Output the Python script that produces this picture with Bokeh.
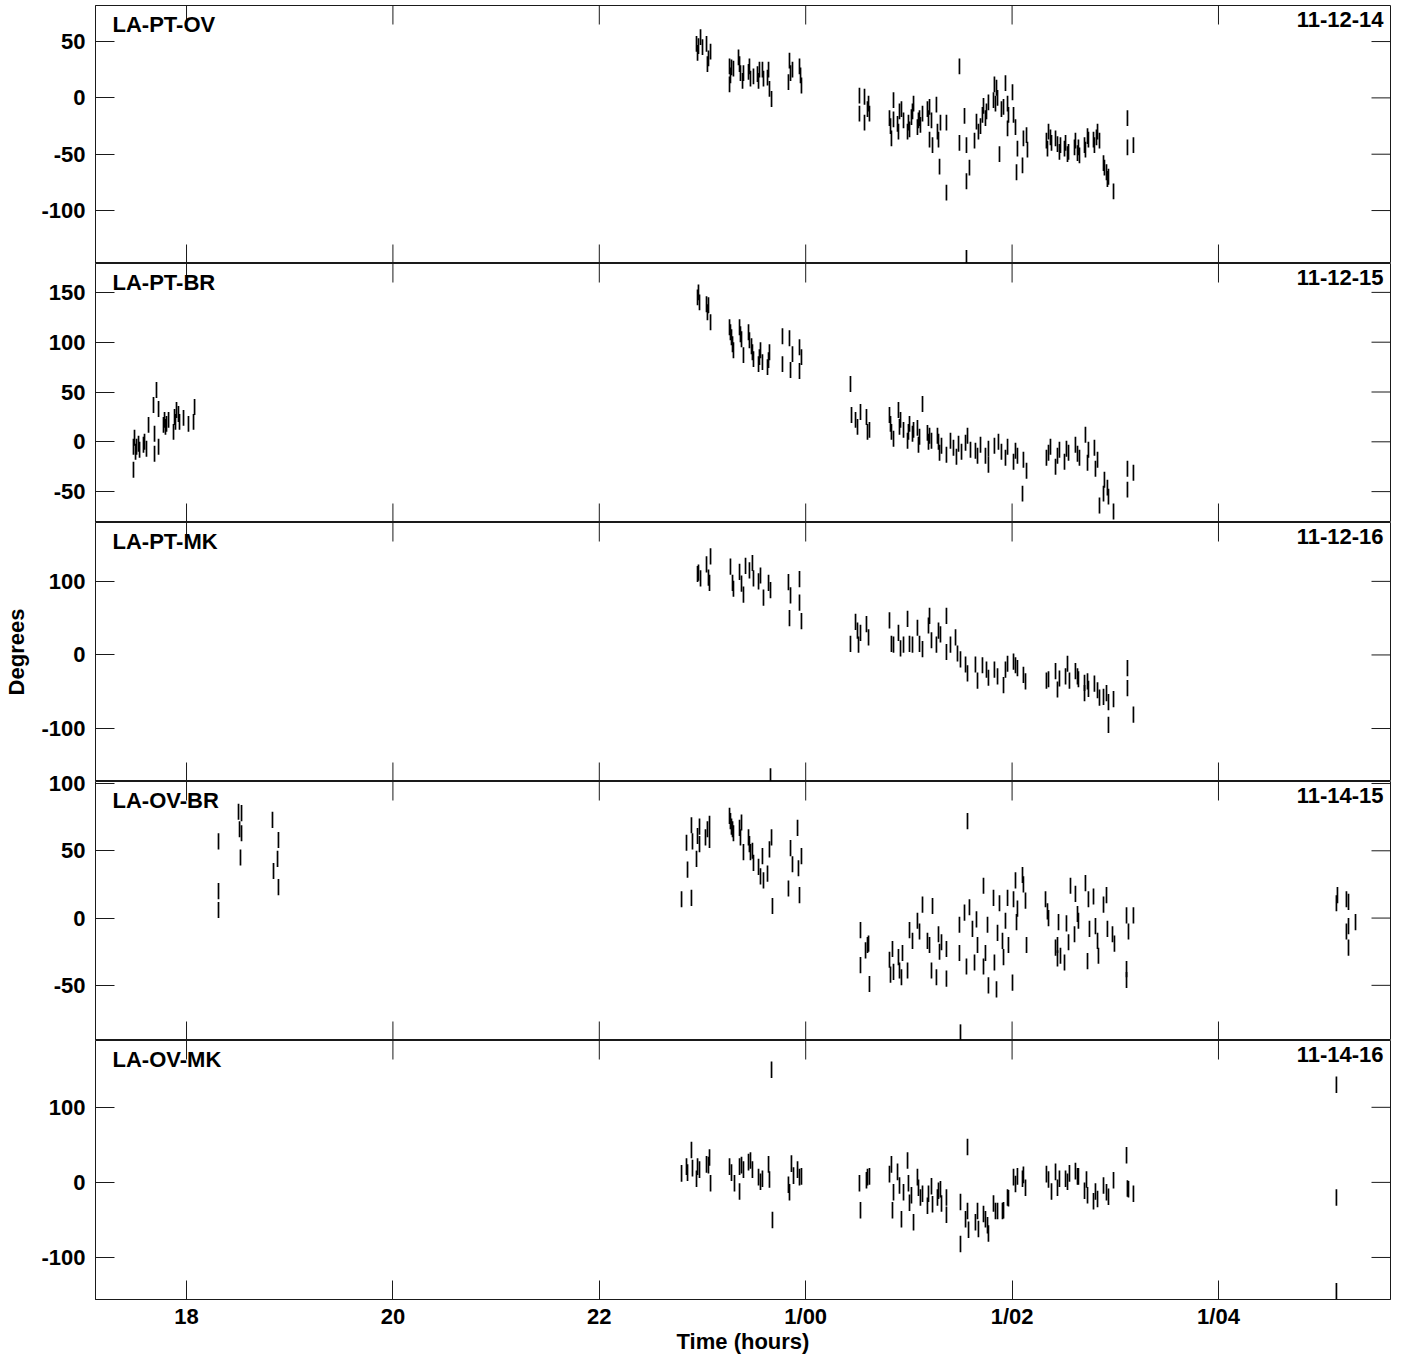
from bokeh.plotting import figure
from bokeh.models import Range1d, FixedTicker, Label, ColumnDataSource
from bokeh.layouts import column
from bokeh.embed import file_html
from bokeh.resources import INLINE

FONT = "Liberation Sans"

baselines = ["LA-PT-OV", "LA-PT-BR", "LA-PT-MK", "LA-OV-BR", "LA-OV-MK"]
codes = ["11-12-14", "11-12-15", "11-12-16", "11-14-15", "11-14-16"]
x_ticks = [18, 20, 22, 24, 26, 28]
x_tick_labels = ["18", "20", "22", "1/00", "1/02", "1/04"]
y_ranges = [(-147, 82), (-81, 179), (-172, 180), (-91, 101.5), (-156, 189)]
y_ticks = [[-100, -50, 0, 50], [-50, 0, 50, 100, 150], [-100, 0, 100],
           [-50, 0, 50, 100], [-100, 0, 100]]
# phase uncertainty (half length of each bar), degrees, per baseline
phase_err = [7, 8, 11, 6, 11]

# ---- LA-PT-OV ----
t_pt_ov = [
    22.942, 22.952, 22.961, 22.981, 23.000, 23.039, 23.048, 23.058, 23.078,
    23.262, 23.262, 23.271, 23.281, 23.300, 23.349, 23.359, 23.368, 23.388, 23.397,
    23.446, 23.455, 23.465, 23.494, 23.533, 23.543, 23.552, 23.581, 23.591, 23.630,
    23.640, 23.649, 23.669,
    23.833, 23.843, 23.853, 23.872, 23.940, 23.950, 23.959,
    24.521, 24.521, 24.570, 24.570, 24.599, 24.609, 24.618,
    24.812, 24.822, 24.831, 24.851, 24.851, 24.890, 24.899, 24.909, 24.928, 24.948,
    24.987, 24.996, 25.006, 25.025, 25.035, 25.045, 25.083, 25.093, 25.103, 25.112,
    25.132, 25.180, 25.190, 25.200, 25.200, 25.219, 25.229, 25.267, 25.277, 25.287,
    25.297, 25.306, 25.364, 25.364,
    25.490, 25.490, 25.539, 25.558, 25.558, 25.558, 25.587, 25.636, 25.655, 25.674,
    25.694, 25.713, 25.723, 25.742, 25.752, 25.771, 25.820, 25.829, 25.839, 25.849,
    25.859, 25.878, 25.897, 25.917, 25.936, 25.956, 25.956, 25.965, 26.004, 26.014,
    26.033, 26.043, 26.052, 26.101, 26.110, 26.140, 26.149,
    26.333, 26.343, 26.353, 26.372, 26.382, 26.421, 26.440, 26.459, 26.469, 26.508,
    26.518, 26.537, 26.547, 26.605, 26.614, 26.634, 26.643, 26.653, 26.702, 26.711,
    26.731, 26.740, 26.789, 26.798, 26.818, 26.828, 26.847, 26.886, 26.895, 26.915,
    26.924, 26.934, 26.983,
    27.118, 27.118, 27.176,
]
ph_pt_ov = [
    48, 40, 46, 54, 45, 48, 30, 35, 41,
    12, 28, 20, 27, 26, 36, 30, 22, 15, 22,
    23, 28, 17, 19, 21, 15, 25, 25, 17, 18,
    25, 8, -1,
    14, 33, 22, 25, 28, 20, 11,
    2, -14, 1, -22, -10, -5, -14,
    -18, -25, -36, -2, -19, -23, -30, -12, -10, -20,
    -30, -22, -28, -17, -12, -5, -26, -20, -18, -24,
    -14, -10, -18, -8, -37, -20, -42, -6, -30, -37,
    -61, -22, -22, -84,
    28, -40, -16, -42, -74, -142, -62, -38, -21, -30,
    -25, -15, -7, -18, -12, -4, -2, 12, -5, 9,
    0, -50, -10, -8, 13, -5, -27, -15, 5, -15,
    -26, -66, -45, -60, -36, -33, -46,
    -38, -45, -30, -35, -40, -36, -41, -48, -42, -45,
    -40, -50, -48, -44, -38, -49, -44, -51, -42, -46,
    -34, -37, -37, -42, -35, -30, -38, -58, -62, -66,
    -72, -70, -83,
    -18, -44, -42,
]

# ---- LA-PT-BR ----
t_pt_br = [
    17.486, 17.486, 17.496, 17.506, 17.516, 17.535, 17.545, 17.583, 17.593, 17.612,
    17.632, 17.680, 17.690, 17.690, 17.709, 17.729, 17.729, 17.777, 17.787, 17.796,
    17.806, 17.826, 17.874, 17.884, 17.893, 17.903, 17.922, 17.932, 17.971, 18.019,
    18.068, 18.078,
    22.952, 22.961, 22.971, 23.039, 23.048, 23.058, 23.078,
    23.262, 23.271, 23.281, 23.291, 23.300, 23.359, 23.368, 23.378, 23.397, 23.446,
    23.455, 23.475, 23.484, 23.494, 23.543, 23.552, 23.562, 23.581, 23.630, 23.640,
    23.649,
    23.775, 23.775, 23.843, 23.853, 23.872, 23.940, 23.940, 23.959,
    24.434, 24.444, 24.483, 24.502, 24.531, 24.589, 24.599, 24.618,
    24.812, 24.822, 24.831, 24.851, 24.899, 24.909, 24.919, 24.948, 24.987, 24.996,
    25.006, 25.035, 25.045, 25.083, 25.093, 25.103, 25.132, 25.180, 25.190, 25.200,
    25.219, 25.277, 25.287, 25.297, 25.316, 25.364, 25.403, 25.432, 25.461, 25.481,
    25.510, 25.549, 25.568, 25.597, 25.645, 25.665, 25.694, 25.742, 25.771, 25.771,
    25.829, 25.868, 25.897, 25.936, 25.956, 26.014, 26.033, 26.052, 26.101, 26.110,
    26.140,
    26.333, 26.353, 26.372, 26.421, 26.440, 26.459, 26.508, 26.527, 26.547, 26.614,
    26.634, 26.653, 26.711, 26.731, 26.740, 26.798, 26.808, 26.828, 26.847, 26.886,
    26.895, 26.924, 26.934, 26.983,
    27.118, 27.118, 27.176,
]
ph_pt_br = [
    -5, -28, 4, -10, -5, -2, -8, -3, 0, -7,
    17, 37, 8, -12, 52, 33, -5, 17, 22, 15,
    18, 22, 10, 25, 20, 32, 28, 20, 24, 18,
    20, 35,
    145, 150, 140, 138, 130, 137, 120,
    115, 110, 105, 98, 92, 115, 108, 103, 87, 110,
    102, 96, 90, 83, 78, 85, 92, 80, 75, 82,
    90,
    106, 78, 104, 72, 88, 95, 71, 85,
    58, 27, 22, 15, 30, 25, 10, 12,
    27, 18, 10, 3, 32, 15, 22, 12, 1, 10,
    18, 8, 12, 14, -3, 5, 38, 9, 0, 6,
    1, 6, 0, -11, -4, -13, 1, -6, -15, -2,
    -10, -1, 6, -8, -9, -14, -3, -14, -7, -23,
    -4, 0, -10, -16, -5, -20, -9, -14, -52, -18,
    -29,
    -16, -11, -5, -25, -14, -8, -20, -7, -11, -3,
    -12, -16, 7, -21, -8, -6, -27, -18, -64, -52,
    -38, -46, -55, -70,
    -27, -48, -31,
]

# ---- LA-PT-MK ----
t_pt_mk = [
    22.952, 22.961, 22.981, 23.039, 23.058, 23.068, 23.078,
    23.271, 23.291, 23.300, 23.359, 23.378, 23.397, 23.417, 23.455, 23.484, 23.494,
    23.543, 23.562, 23.591, 23.640, 23.659, 23.659,
    23.833, 23.843, 23.853, 23.940, 23.940, 23.959,
    24.434, 24.483, 24.502, 24.512, 24.531, 24.589, 24.609,
    24.812, 24.831, 24.851, 24.899, 24.919, 24.948, 24.987, 25.006, 25.035, 25.083,
    25.103, 25.132, 25.190, 25.200, 25.219, 25.267, 25.287, 25.306, 25.364, 25.364,
    25.403, 25.452, 25.471, 25.500, 25.549, 25.568, 25.645, 25.665, 25.713, 25.752,
    25.771, 25.829, 25.859, 25.917, 25.936, 25.956, 26.014, 26.033, 26.052, 26.110,
    26.130,
    26.333, 26.353, 26.421, 26.440, 26.459, 26.518, 26.537, 26.556, 26.614, 26.634,
    26.643, 26.702, 26.702, 26.731, 26.740, 26.798, 26.828, 26.847, 26.886, 26.915,
    26.934, 26.934, 26.983,
    27.118, 27.118, 27.176,
]
ph_pt_mk = [
    110, 112, 104, 123, 105, 98, 134,
    120, 98, 90, 113, 97, 82, 121, 115, 125, 104,
    100, 108, 78, 98, 88, -165,
    99, 50, 81, 103, 71, 46,
    15, 45, 33, 14, 30, 42, 24,
    47, 15, 14, 30, 9, 14, 49, 15, 14, 37,
    15, 8, 40, 53, 20, 14, 33, 28, 53, 4,
    14, 24, 2, -6, -13, -25, -13, -35, -14, -20,
    -31, -20, -29, -41, -20, -12, -9, -14, -18, -27,
    -36,
    -35, -33, -22, -47, -32, -29, -12, -35, -22, -29,
    -33, -38, -52, -36, -46, -39, -48, -58, -57, -52,
    -64, -95, -60,
    -18, -45, -81,
]

# ---- LA-OV-BR ----
t_ov_br = [
    18.310, 18.310, 18.310, 18.504, 18.514, 18.523, 18.533, 18.533, 18.833, 18.843,
    18.882, 18.891, 18.891,
    22.797, 22.845, 22.855, 22.893, 22.893, 22.903, 22.942, 22.952, 22.971, 22.971,
    23.029, 23.048, 23.068, 23.068,
    23.262, 23.271, 23.281, 23.291, 23.300, 23.359, 23.368, 23.378, 23.397, 23.446,
    23.455, 23.465, 23.484, 23.494, 23.543, 23.562, 23.581, 23.591, 23.630, 23.649,
    23.669, 23.678,
    23.833, 23.853, 23.872, 23.921, 23.930, 23.940, 23.959,
    24.531, 24.531, 24.580, 24.599, 24.609, 24.618,
    24.812, 24.822, 24.841, 24.851, 24.899, 24.909, 24.928, 24.938, 24.987, 25.006,
    25.035, 25.083, 25.103, 25.132, 25.180, 25.200, 25.219, 25.229, 25.267, 25.287,
    25.297, 25.316, 25.364, 25.364,
    25.490, 25.490, 25.500, 25.539, 25.558, 25.568, 25.587, 25.616, 25.636, 25.655,
    25.665, 25.723, 25.723, 25.742, 25.762, 25.771, 25.820, 25.829, 25.849, 25.859,
    25.878, 25.907, 25.917, 25.936, 25.956, 25.965, 26.004, 26.014, 26.033, 26.043,
    26.052, 26.101, 26.110, 26.130, 26.140,
    26.324, 26.343, 26.353, 26.421, 26.440, 26.440, 26.450, 26.469, 26.508, 26.527,
    26.547, 26.566, 26.605, 26.614, 26.634, 26.643, 26.711, 26.731, 26.740, 26.750,
    26.789, 26.808, 26.828, 26.837, 26.886, 26.915, 26.924, 26.973, 26.992,
    27.109, 27.109, 27.109, 27.128, 27.176,
    29.143, 29.153, 29.240, 29.240, 29.260, 29.260, 29.260, 29.328,
]
ph_ov_br = [
    57, 20, 6, 79, 66, 45, 78, 63, 73, 35,
    44, 58, 23,
    14, 56, 36, 69, 15, 57, 44, 61, 68, 55,
    60, 66, 70, 58,
    76, 72, 68, 66, 63, 67, 60, 71, 49, 60,
    55, 49, 50, 41, 38, 31, 46, 28, 33, 51,
    60, 9,
    22, 52, 40, 67, 37, 17, 46,
    -9, -35, -24, -20, -19, -49,
    -31, -42, -23, -40, -29, -39, -44, -26, -39, -9,
    -17, -2, -10, 10, -17, -20, -39, 9, -44, -12,
    -25, -18, -23, -45,
    -5, -26, -85, 4, -36, 72, 8, -8, -33, -1,
    -20, 24, -36, -26, -5, -50, 15, -33, -53, -11,
    11, -17, -29, -2, 15, -20, -48, 14, 28, -3,
    7, 32, 25, 13, -20,
    14, 5, 0, -22, -20, -30, -3, -28, -33, -4,
    -18, 24, -12, 18, 3, -2, 26, -32, 14, -8,
    16, -6, -17, -28, 10, 17, -8, -12, -19,
    2, -38, -46, -10, 2,
    11, 17, 14, -10, 12, -22, -6, -3,
]

# ---- LA-OV-MK ----
t_ov_mk = [
    22.797, 22.845, 22.855, 22.893, 22.903, 22.942, 22.952, 22.971, 23.039, 23.058,
    23.068, 23.078,
    23.262, 23.281, 23.310, 23.359, 23.359, 23.378, 23.397, 23.446, 23.465, 23.484,
    23.543, 23.562, 23.581, 23.640, 23.649, 23.669, 23.678,
    23.833, 23.843, 23.862, 23.882, 23.921, 23.940, 23.959,
    24.521, 24.531, 24.589, 24.599, 24.618,
    24.812, 24.831, 24.841, 24.851, 24.890, 24.909, 24.928, 24.948, 24.987, 24.996,
    25.006, 25.025, 25.045, 25.083, 25.093, 25.112, 25.132, 25.180, 25.190, 25.219,
    25.229, 25.277, 25.287, 25.306, 25.316, 25.364, 25.364,
    25.500, 25.500, 25.549, 25.568, 25.568, 25.578, 25.645, 25.665, 25.674, 25.723,
    25.742, 25.762, 25.771, 25.820, 25.839, 25.859, 25.907, 25.917, 25.956, 25.965,
    26.014, 26.033, 26.052, 26.101, 26.110, 26.130,
    26.333, 26.353, 26.382, 26.421, 26.440, 26.459, 26.518, 26.537, 26.556, 26.614,
    26.634, 26.643, 26.702, 26.721, 26.731, 26.789, 26.808, 26.828, 26.886, 26.915,
    26.934, 26.983,
    27.109, 27.118, 27.128, 27.176,
    29.143, 29.143, 29.143,
]
ph_ov_mk = [
    12, 21, 13, 43, 19, 5, 21, 17, 24, 23,
    33, -1,
    21, 13, -1, 21, -12, 23, 17, 27, 29, 17,
    7, 1, 5, 24, 4, 150, -50,
    -3, -13, 25, 9, 17, 7, 8,
    -1, -37, 3, 7, 8,
    11, 24, -37, -13, 14, -4, -49, -13, 29, -1,
    -27, -17, -53, 7, -7, -20, -15, -31, -15, -5,
    -29, -20, -11, -9, -28, -20, -43,
    -26, -82, -49, -38, 47, -63, -53, -38, -62, -42,
    -49, -57, -68, -28, -38, -38, -38, -37, -20, -21,
    7, -2, 8, 5, 10, -7,
    11, 4, -12, 14, -7, 5, 5, 1, 12, 15,
    8, 8, -11, 4, -17, -25, -12, -22, -4, -13,
    -19, 3,
    36, -8, -9, -15,
    130, -20, -145,
]

series = [(t_pt_ov, ph_pt_ov), (t_pt_br, ph_pt_br), (t_pt_mk, ph_pt_mk),
          (t_ov_br, ph_ov_br), (t_ov_mk, ph_ov_mk)]

INK = "#1a1a1a"
FRAME_W = 1295
FRAME_HS = [258, 259, 259, 259, 259]
OVERLAP = 12           # transparent top border that overlaps the panel above
TICK_PX = 19
X0, X1 = 17.118, 29.667
x_range = Range1d(X0, X1)


def style_axis(ax):
    ax.major_tick_in = TICK_PX
    ax.major_tick_out = 0
    ax.minor_tick_in = 0
    ax.minor_tick_out = 0
    ax.axis_line_color = INK
    ax.major_tick_line_color = INK
    ax.major_tick_line_width = 1
    ax.major_label_text_font = FONT
    ax.major_label_text_font_style = "bold"
    ax.major_label_text_color = "black"
    ax.major_label_text_font_size = "22px"
    ax.axis_label_text_font = FONT
    ax.axis_label_text_font_style = "bold"
    ax.axis_label_text_font_size = "22px"
    ax.axis_label_text_color = "black"


figs = []
for i in range(5):
    last = (i == 4)
    FRAME_H = FRAME_HS[i]
    t, ph = series[i]
    assert len(t) == len(ph), (i, len(t), len(ph))
    e = phase_err[i]
    src = ColumnDataSource(dict(t=t, lo=[v - e for v in ph], hi=[v + e for v in ph]))
    Y0, Y1 = y_ranges[i]

    top_border = 5 if i == 0 else OVERLAP
    kw = {}
    if i > 0:
        kw["styles"] = {"margin-top": f"-{OVERLAP}px"}
    p = figure(frame_width=FRAME_W, frame_height=FRAME_H, x_range=x_range,
               y_range=Range1d(Y0, Y1), output_backend="svg",
               toolbar_location=None, min_border_left=95, min_border_right=6,
               min_border_top=top_border, min_border_bottom=0, **kw)
    p.outline_line_color = INK
    p.outline_line_width = 1
    p.grid.visible = False
    p.background_fill_color = "white"
    p.border_fill_color = "white"
    p.border_fill_alpha = 0.0

    xb = p.xaxis[0]
    if last:
        xb.ticker = FixedTicker(ticks=x_ticks, minor_ticks=[])
        style_axis(xb)
        xb.major_label_overrides = {k: v for k, v in zip(x_ticks, x_tick_labels)}
        xb.major_label_standoff = 4
        xb.axis_label = "Time (hours)"
        xb.axis_label_standoff = -3
    else:
        xb.visible = False

    yl = p.yaxis[0]
    yl.ticker = FixedTicker(ticks=y_ticks[i], minor_ticks=[])
    style_axis(yl)
    yl.major_label_standoff = 10
    yl.major_label_overrides = {v: str(v) for v in y_ticks[i]}
    if i == 2:
        yl.axis_label = "Degrees"
        yl.axis_label_standoff = 9

    # inward ticks on the other frame sides (no labels)
    dy = TICK_PX * (Y1 - Y0) / FRAME_H
    dx = TICK_PX * (X1 - X0) / FRAME_W
    nx = len(x_ticks)
    tick_src = dict(x0=list(x_ticks), y0=[Y1] * nx, x1=list(x_ticks), y1=[Y1 - dy] * nx)
    if not last:
        tick_src["x0"] += list(x_ticks)
        tick_src["x1"] += list(x_ticks)
        tick_src["y0"] += [Y0] * nx
        tick_src["y1"] += [Y0 + dy] * nx
    ny = len(y_ticks[i])
    tick_src["x0"] += [X1] * ny
    tick_src["x1"] += [X1 - dx] * ny
    tick_src["y0"] += list(y_ticks[i])
    tick_src["y1"] += list(y_ticks[i])
    p.segment(x0="x0", y0="y0", x1="x1", y1="y1", source=ColumnDataSource(tick_src),
              line_color=INK, line_width=1)

    p.segment(x0="t", y0="lo", x1="t", y1="hi", source=src,
              line_color="black", line_width=1.7)

    p.add_layout(Label(x=17, y=FRAME_H - 6, x_units="screen", y_units="screen",
                       text=baselines[i], text_baseline="top", text_align="left",
                       text_font=FONT, text_font_style="bold",
                       text_font_size="22px", text_color="black"))
    p.add_layout(Label(x=FRAME_W - 7, y=FRAME_H - 6, x_units="screen", y_units="screen",
                       text=codes[i], text_baseline="top", text_align="right",
                       text_font=FONT, text_font_style="bold",
                       text_font_size="22px", text_color="black"))
    figs.append(p)

layout = column(*figs, spacing=0)
open("out.html", "w").write(file_html(layout, INLINE))
